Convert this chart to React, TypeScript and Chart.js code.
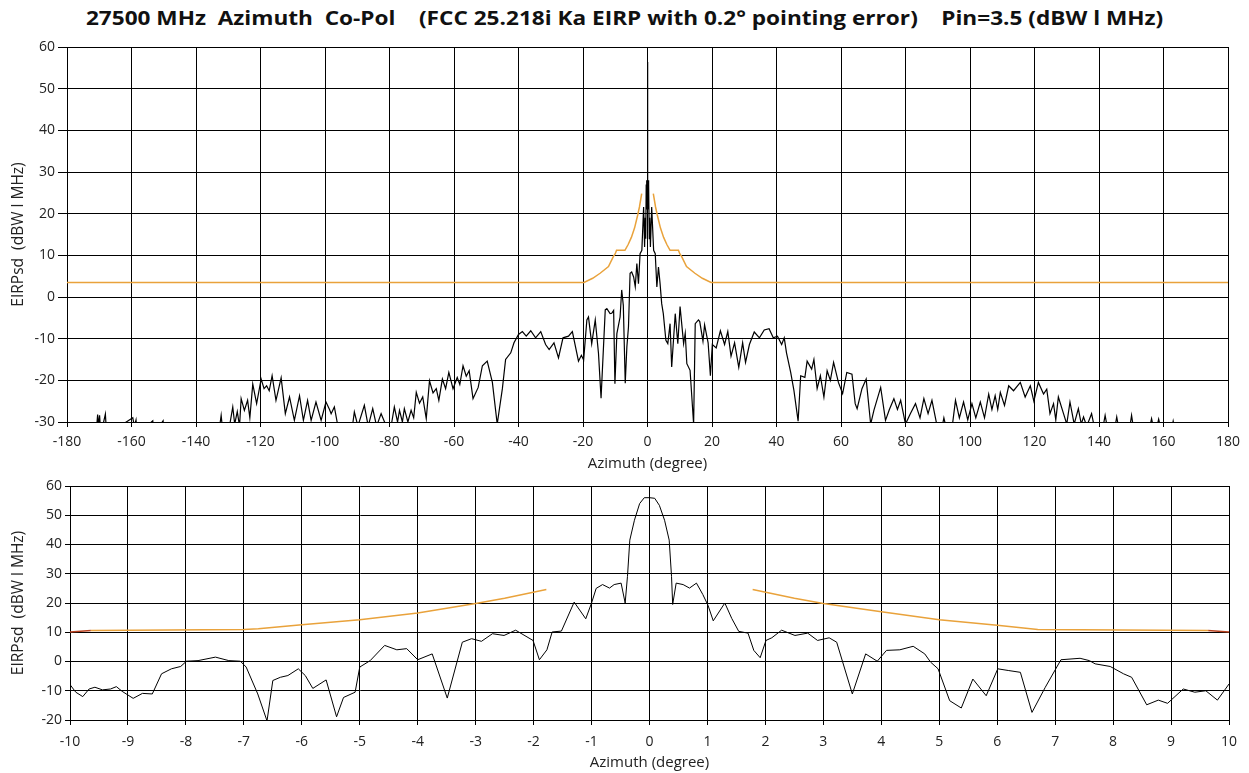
import React, { useEffect, useRef } from "react";
import { Chart, registerables } from "chart.js";
Chart.register(...registerables);

const TITLE = "27500 MHz  Azimuth  Co-Pol    (FCC 25.218i Ka EIRP with 0.2° pointing error)    Pin=3.5 (dBW l MHz)";
const X_TITLE = "Azimuth (degree)";
const Y_TITLE = "EIRPsd  (dBW l MHz)";

// ---- top chart (full azimuth) ----
const wideAz = [
  -180, -171, -170.5, -170.2, -169.9, -169.5, -168.1, -167.7, -159.6, -159.1, -158.6, -158.2, -153.4, -153.1, -150.2, -149.9,
  -133, -132.2, -131.6, -129.5, -128.6, -128, -127.2, -126.5, -126, -125, -124, -123.3, -122.4, -121.2, -119.8, -118.9,
  -118.1, -117.3, -116.4, -115.2, -113.6, -112.3, -111, -109.5, -107.9, -106.7, -105.4, -104.3, -102.8, -101.2, -99.7, -98.6,
  -98.1, -97.1, -96, -91.5, -90.9, -89.8, -87.8, -86.6, -85.2, -84, -82.6, -81, -79.5, -78.5, -77.5, -76.9, -76, -75.4,
  -74.3, -73.3, -72.5, -71.7, -70.7, -69.7, -68.6, -67.6, -66.5, -65.5, -64.7, -63.6, -62.6, -61.6, -60.3, -59, -58.2,
  -57.2, -56.2, -55.3, -54.1, -52.5, -51.2, -49.7, -48.1, -46.6, -45, -44, -42.4, -41.4, -40, -38.8, -37.6, -36.2, -34.7,
  -33.1, -31.6, -30.5, -29, -27.6, -26.2, -24.5, -23.3, -21.4, -20.5, -19.8, -18.8, -18.3, -17.3, -16.2, -15.2, -14.4,
  -13.1, -12.6, -11.6, -11.1, -10.5, -10.1, -9.5, -8.5, -8, -7.5, -6.9, -6.4, -5.9, -5.4, -4.9, -4.3, -3.8, -3.3, -2.8,
  -2.3, -1.75, -1.2, -0.9, -0.7, -0.55, -0.4, -0.3, -0.2, -0.1, 0, 0.1, 0.2, 0.3, 0.4, 0.55, 0.7, 0.9, 1.3, 1.9, 2.4,
  2.9, 3.4, 3.9, 4.4, 4.9, 5.7, 6.3, 7, 7.5, 8.6,
  9.4, 10.1, 11.2, 11.7, 12.2, 13.2, 14.3, 14.8, 15.8, 16.2, 17.2, 17.7, 18.8, 19.5, 20.1, 21.3, 22.6, 23.9, 24.9, 25.9,
  27, 28.3, 29.5, 30.4, 31.6, 33.1, 34.7, 36.2, 37.7, 39, 40.3, 41.6, 42.4, 43.1, 44.4, 45.4, 46.7, 47.5, 48.8, 49.5,
  50.9, 51.6, 52.6, 53.6, 54.7, 55.7, 56.7, 57.7, 59.2, 60.5, 61.8, 63.4, 64.4, 65, 66.5, 67.8, 69.2, 70.2, 72.3, 73.8,
  75, 76.4, 77.5, 78.5, 80, 81.5, 83.1, 84.5, 85.7, 87, 88.2, 89.8, 91.4, 91.9, 92.5, 94.5, 95.5, 96.7, 98, 99.3, 100.6,
  101.8, 103.2, 104.5, 105.8, 106.8, 107.8, 108.6, 109.4, 110.7, 112, 113.5, 115.6, 117.1, 118.7, 119.8, 121.2, 122.8,
  123.8, 124.8, 125.9, 126.6, 127.4, 129, 130, 131, 132.3, 133.6, 134.5, 135.2, 136.2, 137.7, 138.5, 141.3, 141.9, 142.5,
  145, 145.5, 146, 149.6, 150.1, 150.6, 155.8, 156.3, 156.8, 158, 158.5, 159, 162.7, 163, 163.3, 180,
];
const wideEirp = [
  -33, -33, -28.2, -31, -28.4, -33, -28.1, -33, -29, -31, -29.5, -33, -29.7, -33, -29.7, -33,
  -33, -28.4, -33, -30.5, -26.4, -30.5, -27.5, -31, -24.4, -27.2, -24.8, -29, -20.9, -25.6, -19.7, -22,
  -21.3, -22.5, -18.9, -24.8, -19.4, -28, -24, -29.6, -23.7, -29.6, -24.8, -29.6, -25.2, -29.6, -25.2, -27,
  -28, -26.4, -31, -31, -27.6, -31, -26, -31, -26.8, -31, -28, -31, -31, -26.4, -30, -27.2, -30, -26.8,
  -30, -27.2, -29, -22.9, -25.5, -24, -29.2, -20.1, -23, -22, -24.8, -19.7, -22, -18.1, -22, -19.3, -21,
  -16.5, -19, -17.7, -24.4, -21.7, -16.5, -15.4, -20.5, -30.5, -22, -15, -13.4, -11, -9, -8.3, -9.4, -8.1, -9.8,
  -8.3, -11.4, -12.6, -11, -14.6, -9.8, -9.4, -8.3, -15.4, -14, -15.1, -5.5, -4.8, -11.2, -5.5, -13.5, -24.3,
  -3.1, -2.8, -4, -3.9, -3.2, -20.8, -8.8, -4.8, 1.7, -2, -20.7, -12, -7.2, 5.7, 6, 4.8, 2.5, 8, 3.2,
  10.4, 11.2, 21.6, 12, 19, 14, 27, 21, 28, 24, 56.4, 24, 28, 21, 27, 14, 19, 12, 21.6, 11.2, 10.4,
  2.4, 7.2, 3.2, -1.6, -4, -10.4, -11.2, -6.4, -16.8, -4,
  -11.2, -2.3, -11.2, -8.7, -16, -17.6, -30.5, -6.4, -5.5, -5.9, -10.6, -6.7, -11, -18.9, -11.4, -12.2, -8.1, -11.4, -8.3, -14.2,
  -11, -16.9, -11, -15.7, -11.4, -8.4, -9.8, -7.9, -7.6, -9.8, -9.4, -11.4, -9.8, -13.4, -18.1, -22.4, -29.8, -18.9, -19.3, -15.4,
  -17.3, -15, -22, -18.9, -24, -17.7, -20, -15.7, -20.5, -23.2, -18.1, -18.5, -25.6, -26.8, -22, -19.7, -30.5, -27.2, -21.7, -29.6,
  -27, -24.4, -27, -24.8, -30.5, -28, -25.6, -29, -24.4, -28, -24.8, -31, -31, -29, -31, -31, -24.8, -29, -25.2, -29.5, -25.6,
  -29, -25.2, -29, -23.3, -27, -23.7, -27, -22.9, -26, -21.3, -22.5, -20.5, -24, -21.3, -25, -20.5, -23.3,
  -22.1, -28, -25.6, -29.5, -24, -28, -30.5, -25.2, -30.5, -26.8, -30.5, -28.8, -31, -28, -31, -31, -28.4, -31,
  -31, -28.8, -31, -31, -28.4, -31, -31, -29.2, -31, -31, -29.3, -31, -31, -29.8, -31, -33,
];
const wideMaskLeftAz = [-180, -19.7, -17, -14.7, -12.1, -10.6, -10, -9.6, -7, -6, -5, -4, -3, -2.5, -1.8];
const wideMaskLeftVal = [3.5, 3.5, 4.5, 5.7, 7.3, 9.7, 10.4, 11.2, 11.2, 12.6, 14.3, 16.6, 19.8, 21.6, 24.8];
const wideMaskRightAz = [1.8, 2.5, 3, 4, 5, 6, 7, 9.6, 10, 10.6, 12.1, 14.7, 17, 19.7, 180];
const wideMaskRightVal = [24.8, 21.6, 19.8, 16.6, 14.3, 12.6, 11.2, 11.2, 10.4, 9.7, 7.3, 5.7, 4.5, 3.5, 3.5];

// ---- bottom chart (±10°) ----
const zoomAz = [
  -10, -9.9, -9.78, -9.67, -9.57, -9.44, -9.3, -9.2, -9.1, -8.91, -8.75, -8.58, -8.42, -8.25, -8.09, -7.99, -7.79, -7.49,
  -7.26, -7.06, -6.96, -6.76, -6.6, -6.5, -6.37, -6.24, -6.06, -5.94, -5.81, -5.58, -5.4, -5.28, -5.08, -5.0, -4.82, -4.57,
  -4.36, -4.19, -4.0, -3.75, -3.49, -3.23, -3.07, -2.9, -2.71, -2.51, -2.31, -2.01, -1.9, -1.77, -1.68, -1.52, -1.3, -1.1,
  -1.0, -0.92, -0.81, -0.69, -0.61, -0.49, -0.42, -0.38, -0.34, -0.26, -0.17, -0.09, 0, 0.09, 0.17, 0.26, 0.34, 0.38, 0.4,
  0.46, 0.58, 0.69, 0.81, 0.92, 1.01, 1.1, 1.3, 1.42, 1.54, 1.7, 1.8, 1.91, 2.01, 2.11, 2.28, 2.51, 2.73, 2.9, 3.1, 3.23,
  3.5, 3.73, 3.93, 4.09, 4.32, 4.55, 4.75, 4.85, 4.98, 5.18, 5.38, 5.58, 5.81, 6.01, 6.2, 6.4, 6.6, 6.83, 7.1, 7.43, 7.59,
  7.69, 7.95, 8.18, 8.32, 8.58, 8.78, 8.94, 9.21, 9.41, 9.6, 9.8, 10,
];
const zoomEirp = [
  -7.9, -10.5, -12, -9.4, -8.8, -9.7, -9.4, -8.6, -10.2, -12.6, -10.9, -11.1, -4.2, -2.5, -1.7, 0.1, 0.3, 1.5,
  0.3, 0.1, -1.9, -11.1, -20.3, -6.5, -5.4, -4.8, -2.5, -4.8, -9.2, -6.3, -18.9, -12.3, -10.5, -1.9, 0.3, 5.5,
  4, 4.4, 0.6, 2.6, -12.5, 6.6, 7.8, 6.9, 9.5, 8.9, 10.7, 7.2, 0.6, 4, 10.1, 10.4, 20.3, 14.6,
  20, 25, 26.3, 25.1, 26.3, 26.8, 20, 29.1, 41.5, 48.3, 54, 56, 56, 55.8, 53.4, 48.3, 41.5, 29.1, 19.5,
  26.8, 26.3, 25.1, 26.8, 22.9, 19.2, 13.9, 20, 14.7, 10.3, 9.7, 3.8, 1.3, 7.2, 8.1, 10.7, 8.9, 9.7, 7.2, 8.1, 6.6,
  -11.1, 2.6, 0.1, 3.8, 4, 5.2, 2.6, -0.2, -2.5, -13.4, -15.9, -6, -11.7, -2.5, -3.1, -3.7, -17.4, -8.8, 0.6, 1.1, 0.3,
  -0.8, -1.7, -4.2, -5.4, -14.8, -13.2, -14.3, -9.4, -10.5, -10, -13.2, -7.7,
];
const zoomMaskLeftAz = [-9.64, -7, -6.75, -6, -5, -4, -3, -2.5, -1.78];
const zoomMaskLeftVal = [10.6, 10.9, 11.2, 12.6, 14.3, 16.6, 19.8, 21.6, 24.6];
const zoomMaskRightAz = [1.78, 2.5, 3, 4, 5, 6, 6.7, 9.64];
const zoomMaskRightVal = [24.6, 21.6, 19.8, 17, 14.3, 12.4, 10.9, 10.6];
const zoomEdgeLeftAz = [-10, -9.64];
const zoomEdgeLeftVal = [10.1, 10.6];
const zoomEdgeRightAz = [9.64, 10];
const zoomEdgeRightVal = [10.6, 10.1];

const wideXRange = [-180, 180, 20];
const wideYRange = [-30, 60, 10];
const zoomXRange = [-10, 10, 1];
const zoomYRange = [-20, 60, 10];

const BLACK = "#000000";
const ORANGE = "#E9A23B";
const DARKRED = "#B8401E";
const FONT = "'Open Sans', 'Noto Sans', sans-serif";

function pts(xs: number[], ys: number[]) {
  return xs.map((x, i) => ({ x, y: ys[i] }));
}

function line(data: { x: number; y: number }[], color: string, width = 1) {
  return {
    data,
    borderColor: color,
    backgroundColor: color,
    borderWidth: width,
    pointRadius: 0,
    tension: 0,
    fill: false,
  };
}

interface Geo {
  yWidth: number;
  xHeight: number;
  padTop: number;
  padRight: number;
  xTickLen: number;
  xTickPad: number;
  yTickLen: number;
  yTickPad: number;
  xTitlePadBottom: number;
  yTitlePadTop: number;
}

function makeConfig(datasets: any[], xr: number[], yr: number[], g: Geo): any {
  return {
    type: "line",
    data: { datasets },
    options: {
      responsive: false,
      animation: false,
      events: [],
      layout: { padding: { top: g.padTop, right: g.padRight, left: 0, bottom: 0 } },
      plugins: { legend: { display: false }, tooltip: { enabled: false }, title: { display: false } },
      scales: {
        x: {
          type: "linear",
          min: xr[0],
          max: xr[1],
          afterBuildTicks: (s: any) => {
            const t = [];
            for (let v = xr[0]; v <= xr[1] + 1e-9; v += xr[2]) t.push({ value: Math.round(v * 1000) / 1000 });
            s.ticks = t;
          },
          afterFit: (s: any) => {
            s.height = g.xHeight;
          },
          grid: { color: BLACK, lineWidth: 1, tickLength: g.xTickLen, tickColor: BLACK, drawOnChartArea: true },
          border: { color: BLACK, width: 1 },
          ticks: {
            color: "#222",
            font: { family: FONT, size: 14 },
            padding: g.xTickPad,
            maxRotation: 0,
            autoSkip: false,
          },
          title: {
            display: true,
            text: X_TITLE,
            color: "#222",
            font: { family: FONT, size: 15 },
            padding: { top: 0, bottom: g.xTitlePadBottom },
          },
        },
        y: {
          type: "linear",
          min: yr[0],
          max: yr[1],
          afterBuildTicks: (s: any) => {
            const t = [];
            for (let v = yr[0]; v <= yr[1] + 1e-9; v += yr[2]) t.push({ value: v });
            s.ticks = t;
          },
          afterFit: (s: any) => {
            s.width = g.yWidth;
          },
          grid: { color: BLACK, lineWidth: 1, tickLength: g.yTickLen, tickColor: BLACK },
          border: { color: BLACK, width: 1 },
          ticks: { color: "#222", font: { family: FONT, size: 14 }, padding: g.yTickPad, autoSkip: false },
          title: {
            display: true,
            text: Y_TITLE,
            color: "#222",
            font: { family: FONT, size: 15.5 },
            padding: { top: g.yTitlePadTop, bottom: 0 },
          },
        },
      },
    },
  };
}

function ChartCanvas({ config, top, height }: { config: any; top: number; height: number }) {
  const ref = useRef<HTMLCanvasElement>(null);
  useEffect(() => {
    if (!ref.current) return;
    const c = new Chart(ref.current, config);
    return () => c.destroy();
  }, [config]);
  return (
    <canvas
      ref={ref}
      width={1249}
      height={height}
      style={{ position: "absolute", left: 0, top, width: 1249, height, display: "block" }}
    />
  );
}

const topConfig = makeConfig(
  [
    line(pts(wideMaskLeftAz, wideMaskLeftVal), ORANGE, 1.5),
    line(pts(wideMaskRightAz, wideMaskRightVal), ORANGE, 1.5),
    line(pts(wideAz, wideEirp), BLACK, 1.2),
  ],
  wideXRange,
  wideYRange,
  {
    yWidth: 67,
    xHeight: 56,
    padTop: 17,
    padRight: 21,
    xTickLen: 5,
    xTickPad: 7,
    yTickLen: 9,
    yTickPad: 3,
    xTitlePadBottom: 5,
    yTitlePadTop: 9,
  }
);

const bottomConfig = makeConfig(
  [
    line(pts(zoomMaskLeftAz, zoomMaskLeftVal), ORANGE, 1.5),
    line(pts(zoomMaskRightAz, zoomMaskRightVal), ORANGE, 1.5),
    line(pts(zoomEdgeLeftAz, zoomEdgeLeftVal), DARKRED, 1.5),
    line(pts(zoomEdgeRightAz, zoomEdgeRightVal), DARKRED, 1.5),
    line(pts(zoomAz, zoomEirp), BLACK, 1),
  ],
  zoomXRange,
  zoomYRange,
  {
    yWidth: 70,
    xHeight: 53,
    padTop: 12,
    padRight: 20,
    xTickLen: 5,
    xTickPad: 9,
    yTickLen: 5,
    yTickPad: 3,
    xTitlePadBottom: 1,
    yTitlePadTop: 9,
  }
);

export default function App() {
  return (
    <div style={{ position: "absolute", left: 0, top: 0, width: 1249, height: 773, background: "#fff", overflow: "hidden" }}>
      <div
        style={{
          position: "absolute",
          left: 0,
          top: 4,
          width: 1249,
          textAlign: "center",
          whiteSpace: "pre",
          fontFamily: FONT,
          fontWeight: 700,
          fontSize: 20,
          lineHeight: "28px",
          color: "#111",
          transform: "scaleX(1.13)",
          transformOrigin: "624px 0",
        }}
      >
        {TITLE}
      </div>
      <ChartCanvas config={topConfig} top={30} height={448} />
      <ChartCanvas config={bottomConfig} top={474} height={299} />
    </div>
  );
}
